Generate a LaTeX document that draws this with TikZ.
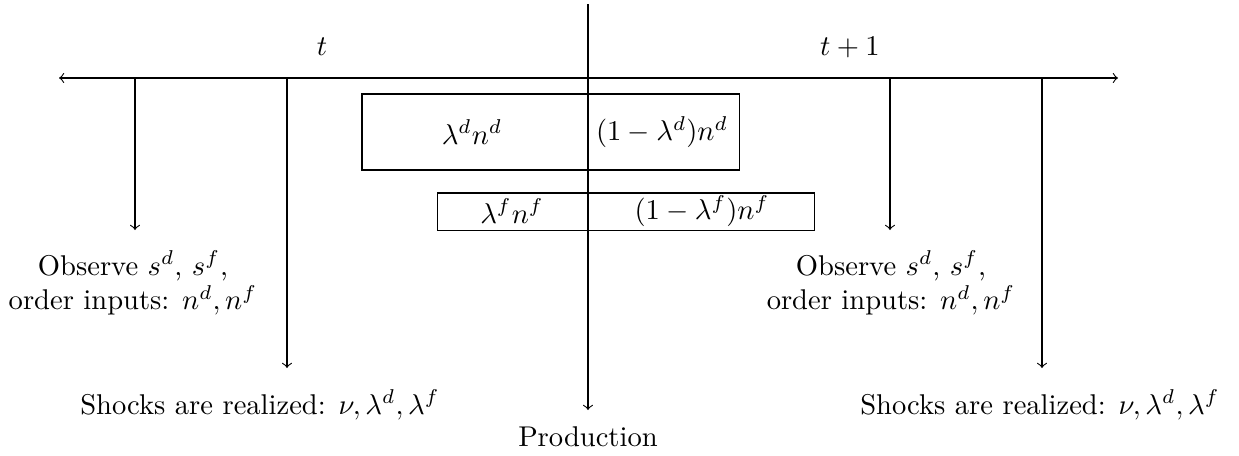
\documentclass[tikz,border=0pt]{standalone}
\begin{document}
\begin{tikzpicture}[x=0.35pt,y=-0.35pt,>=to,
  lbl/.style={inner sep=0pt,align=center},
  boxd/.style={draw,minimum width=132pt,minimum height=26.6pt,inner sep=0pt},
  conn/.style={line width=0.4pt}]
\useasboundingbox (0,0) rectangle (1239,455);
% labels
\node[lbl] (t) at (322,47) {$t$};
\node[lbl] (t1) at (850,47) {$t+1$};
% axis
\coordinate (L) at (59,78);
\coordinate (R) at (1118,78);
\draw[conn,<->] (L) -- (R);
% boxes
\node[boxd] (bd) at (550.5,132) {};
\node[boxd,minimum height=13pt] (bf) at (626,211.5) {};
\node[lbl] (bd1) at (472,132) {$\lambda^d n^d$};
\node[lbl] (bd2) at (662,132) {$(1-\lambda^d)n^d$};
\node[lbl] (bf1) at (512,211) {$\lambda^f n^f$};
\node[lbl] (bf2) at (702,211) {$(1-\lambda^f)n^f$};
% main line
\coordinate (top) at (588,4);
\coordinate (pe) at (588,410);
\node[lbl] (prod) at (588,437) {Production};
\draw[conn,->] (top) -- (pe);
% ticks
\coordinate (a1) at (135,78);  \coordinate (a1e) at (135,230);
\coordinate (a2) at (287,78);  \coordinate (a2e) at (287,368);
\coordinate (a3) at (890,78);  \coordinate (a3e) at (890,230);
\coordinate (a4) at (1042,78); \coordinate (a4e) at (1042,368);
\draw[conn,->] (a1) -- (a1e);
\draw[conn,->] (a2) -- (a2e);
\draw[conn,->] (a3) -- (a3e);
\draw[conn,->] (a4) -- (a4e);
\node[lbl] (obs1) at (133,283) {Observe $s^d$, $s^f$,\\ order inputs: $n^d, n^f$};
\node[lbl] (obs2) at (891,283) {Observe $s^d$, $s^f$,\\ order inputs: $n^d, n^f$};
\node[lbl] (sh1) at (260,405) {Shocks are realized: $\nu, \lambda^d, \lambda^f$};
\node[lbl] (sh2) at (1040,405) {Shocks are realized: $\nu, \lambda^d, \lambda^f$};
\end{tikzpicture}
\end{document}
